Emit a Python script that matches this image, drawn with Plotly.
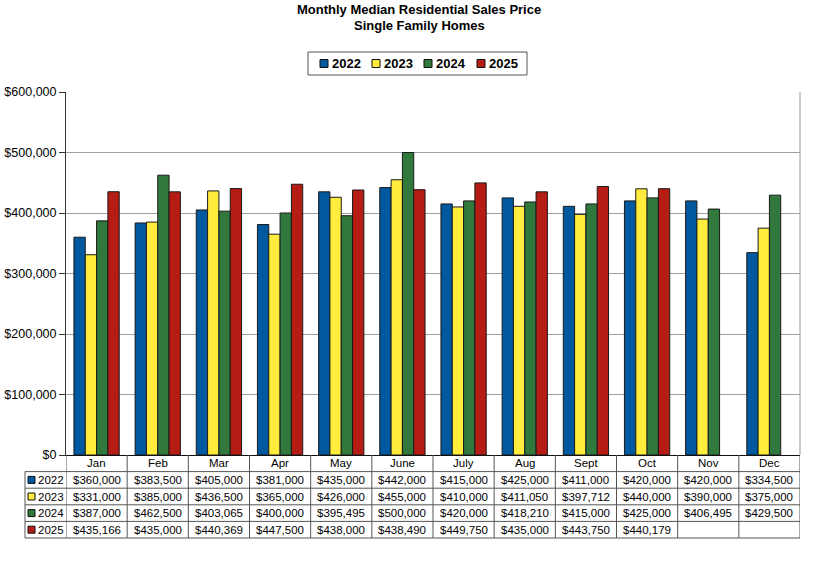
import plotly.graph_objects as go

months = ["Jan", "Feb", "Mar", "Apr", "May", "June", "July", "Aug", "Sept", "Oct", "Nov", "Dec"]
years = ["2022", "2023", "2024", "2025"]
v2022 = [360000, 383500, 405000, 381000, 435000, 442000, 415000, 425000, 411000, 420000, 420000, 334500]
v2023 = [331000, 385000, 436500, 365000, 426000, 455000, 410000, 411050, 397712, 440000, 390000, 375000]
v2024 = [387000, 462500, 403065, 400000, 395495, 500000, 420000, 418210, 415000, 425000, 406495, 429500]
v2025 = [435166, 435000, 440369, 447500, 438000, 438490, 449750, 435000, 443750, 440179, None, None]
series = [v2022, v2023, v2024, v2025]
colors = ["#00589f", "#ffec3c", "#30783c", "#b41c14"]
yticks = [0, 100000, 200000, 300000, 400000, 500000, 600000]
ytick_text = ["$0", "$100,000", "$200,000", "$300,000", "$400,000", "$500,000", "$600,000"]

FONT = "Liberation Sans, Arial, sans-serif"
L, R, T, B = 66, 800, 92, 455
W, H = 822, 561


def X(px):
    return (px - L) / (R - L)


def Y(py):
    return (B - py) / (B - T)


fig = go.Figure()
idx = list(range(len(months)))
for yr, vals, c in zip(years, series, colors):
    fig.add_trace(go.Bar(
        x=idx, y=vals, name=yr, marker=dict(color=c, line=dict(color="#1a1a1a", width=1)),
        showlegend=False, hoverinfo="y",
    ))

shapes = []
annotations = []

# Title
annotations.append(dict(text="<b>Monthly Median Residential Sales Price</b>", x=X(419), y=Y(9),
                        xref="paper", yref="paper", xanchor="center", yanchor="middle",
                        showarrow=False, font=dict(family=FONT, size=13, color="black")))
annotations.append(dict(text="<b>Single Family Homes</b>", x=X(419), y=Y(26),
                        xref="paper", yref="paper", xanchor="center", yanchor="middle",
                        showarrow=False, font=dict(family=FONT, size=13, color="black")))

# Legend box
shapes.append(dict(type="rect", xref="paper", yref="paper", x0=X(308), x1=X(527), y0=Y(52), y1=Y(75),
                   line=dict(color="#555", width=1), fillcolor="white"))
leg_x = [320, 372, 424, 477]
for yr, c, lx in zip(years, colors, leg_x):
    shapes.append(dict(type="rect", xref="paper", yref="paper", x0=X(lx), x1=X(lx + 8),
                       y0=Y(59.5), y1=Y(67.5), line=dict(color="#111", width=1), fillcolor=c))
    annotations.append(dict(text="<b>%s</b>" % yr, x=X(lx + 10), y=Y(63.5), xref="paper", yref="paper",
                            xanchor="left", yanchor="middle", showarrow=False,
                            font=dict(family=FONT, size=13, color="black")))

# Right border of plot
shapes.append(dict(type="line", xref="paper", yref="paper", x0=1, x1=1, y0=0, y1=1,
                   line=dict(color="#999", width=1)))

# Data table
rows = [455, 471.6, 488.2, 504.8, 521.4, 538]
TL = 25
for k in range(len(months) + 1):
    shapes.append(dict(type="line", xref="x", yref="paper", x0=k - 0.5, x1=k - 0.5,
                       y0=Y(rows[0]), y1=Y(rows[-1]), line=dict(color="#555", width=1)))
shapes.append(dict(type="line", xref="paper", yref="paper", x0=X(TL), x1=X(TL),
                   y0=Y(rows[1]), y1=Y(rows[-1]), line=dict(color="#555", width=1)))
for ry in rows[1:]:
    shapes.append(dict(type="line", xref="paper", yref="paper", x0=X(TL), x1=1,
                       y0=Y(ry), y1=Y(ry), line=dict(color="#555", width=1)))

for i, m in enumerate(months):
    annotations.append(dict(text=m, x=i, y=Y((rows[0] + rows[1]) / 2), xref="x", yref="paper",
                            xanchor="center", yanchor="middle", showarrow=False,
                            font=dict(family=FONT, size=11.5, color="black")))
for r, (yr, vals, c) in enumerate(zip(years, series, colors)):
    cy = (rows[r + 1] + rows[r + 2]) / 2
    shapes.append(dict(type="rect", xref="paper", yref="paper", x0=X(28), x1=X(35),
                       y0=Y(cy - 3.5), y1=Y(cy + 3.5), line=dict(color="#111", width=1), fillcolor=c))
    annotations.append(dict(text=yr, x=X(36), y=Y(cy), xref="paper", yref="paper",
                            xanchor="left", yanchor="middle", showarrow=False,
                            font=dict(family=FONT, size=11.5, color="black")))
    for i, v in enumerate(vals):
        if v is None:
            continue
        annotations.append(dict(text="${:,}".format(v), x=i, y=Y(cy), xref="x", yref="paper",
                                xanchor="center", yanchor="middle", showarrow=False,
                                font=dict(family=FONT, size=11.5, color="black")))

fig.update_layout(
    width=W, height=H,
    margin=dict(l=L, r=W - R, t=T, b=H - B, pad=0, autoexpand=False),
    paper_bgcolor="white", plot_bgcolor="white",
    barmode="group", bargap=0.26, bargroupgap=0,
    font=dict(family=FONT, color="black"),
    shapes=shapes, annotations=annotations,
    showlegend=False,
    xaxis=dict(range=[-0.5, len(months) - 0.5], showticklabels=False, ticks="", showgrid=False,
               zeroline=False, showline=True, linecolor="#111", linewidth=1, fixedrange=True,
               automargin=False),
    yaxis=dict(range=[0, 600000], tickvals=yticks, ticktext=ytick_text, ticks="outside", ticklen=6,
               tickcolor="#333", showgrid=True, gridcolor="#a0a0a0", gridwidth=1, zeroline=False,
               showline=True, linecolor="#333", linewidth=1, tickfont=dict(family=FONT, size=12.5, color="black"),
               fixedrange=True, automargin=False),
)

fig.write_html("out.html", config={"displayModeBar": False},
               post_script="document.body.style.margin='0';document.body.style.overflow='hidden';")
